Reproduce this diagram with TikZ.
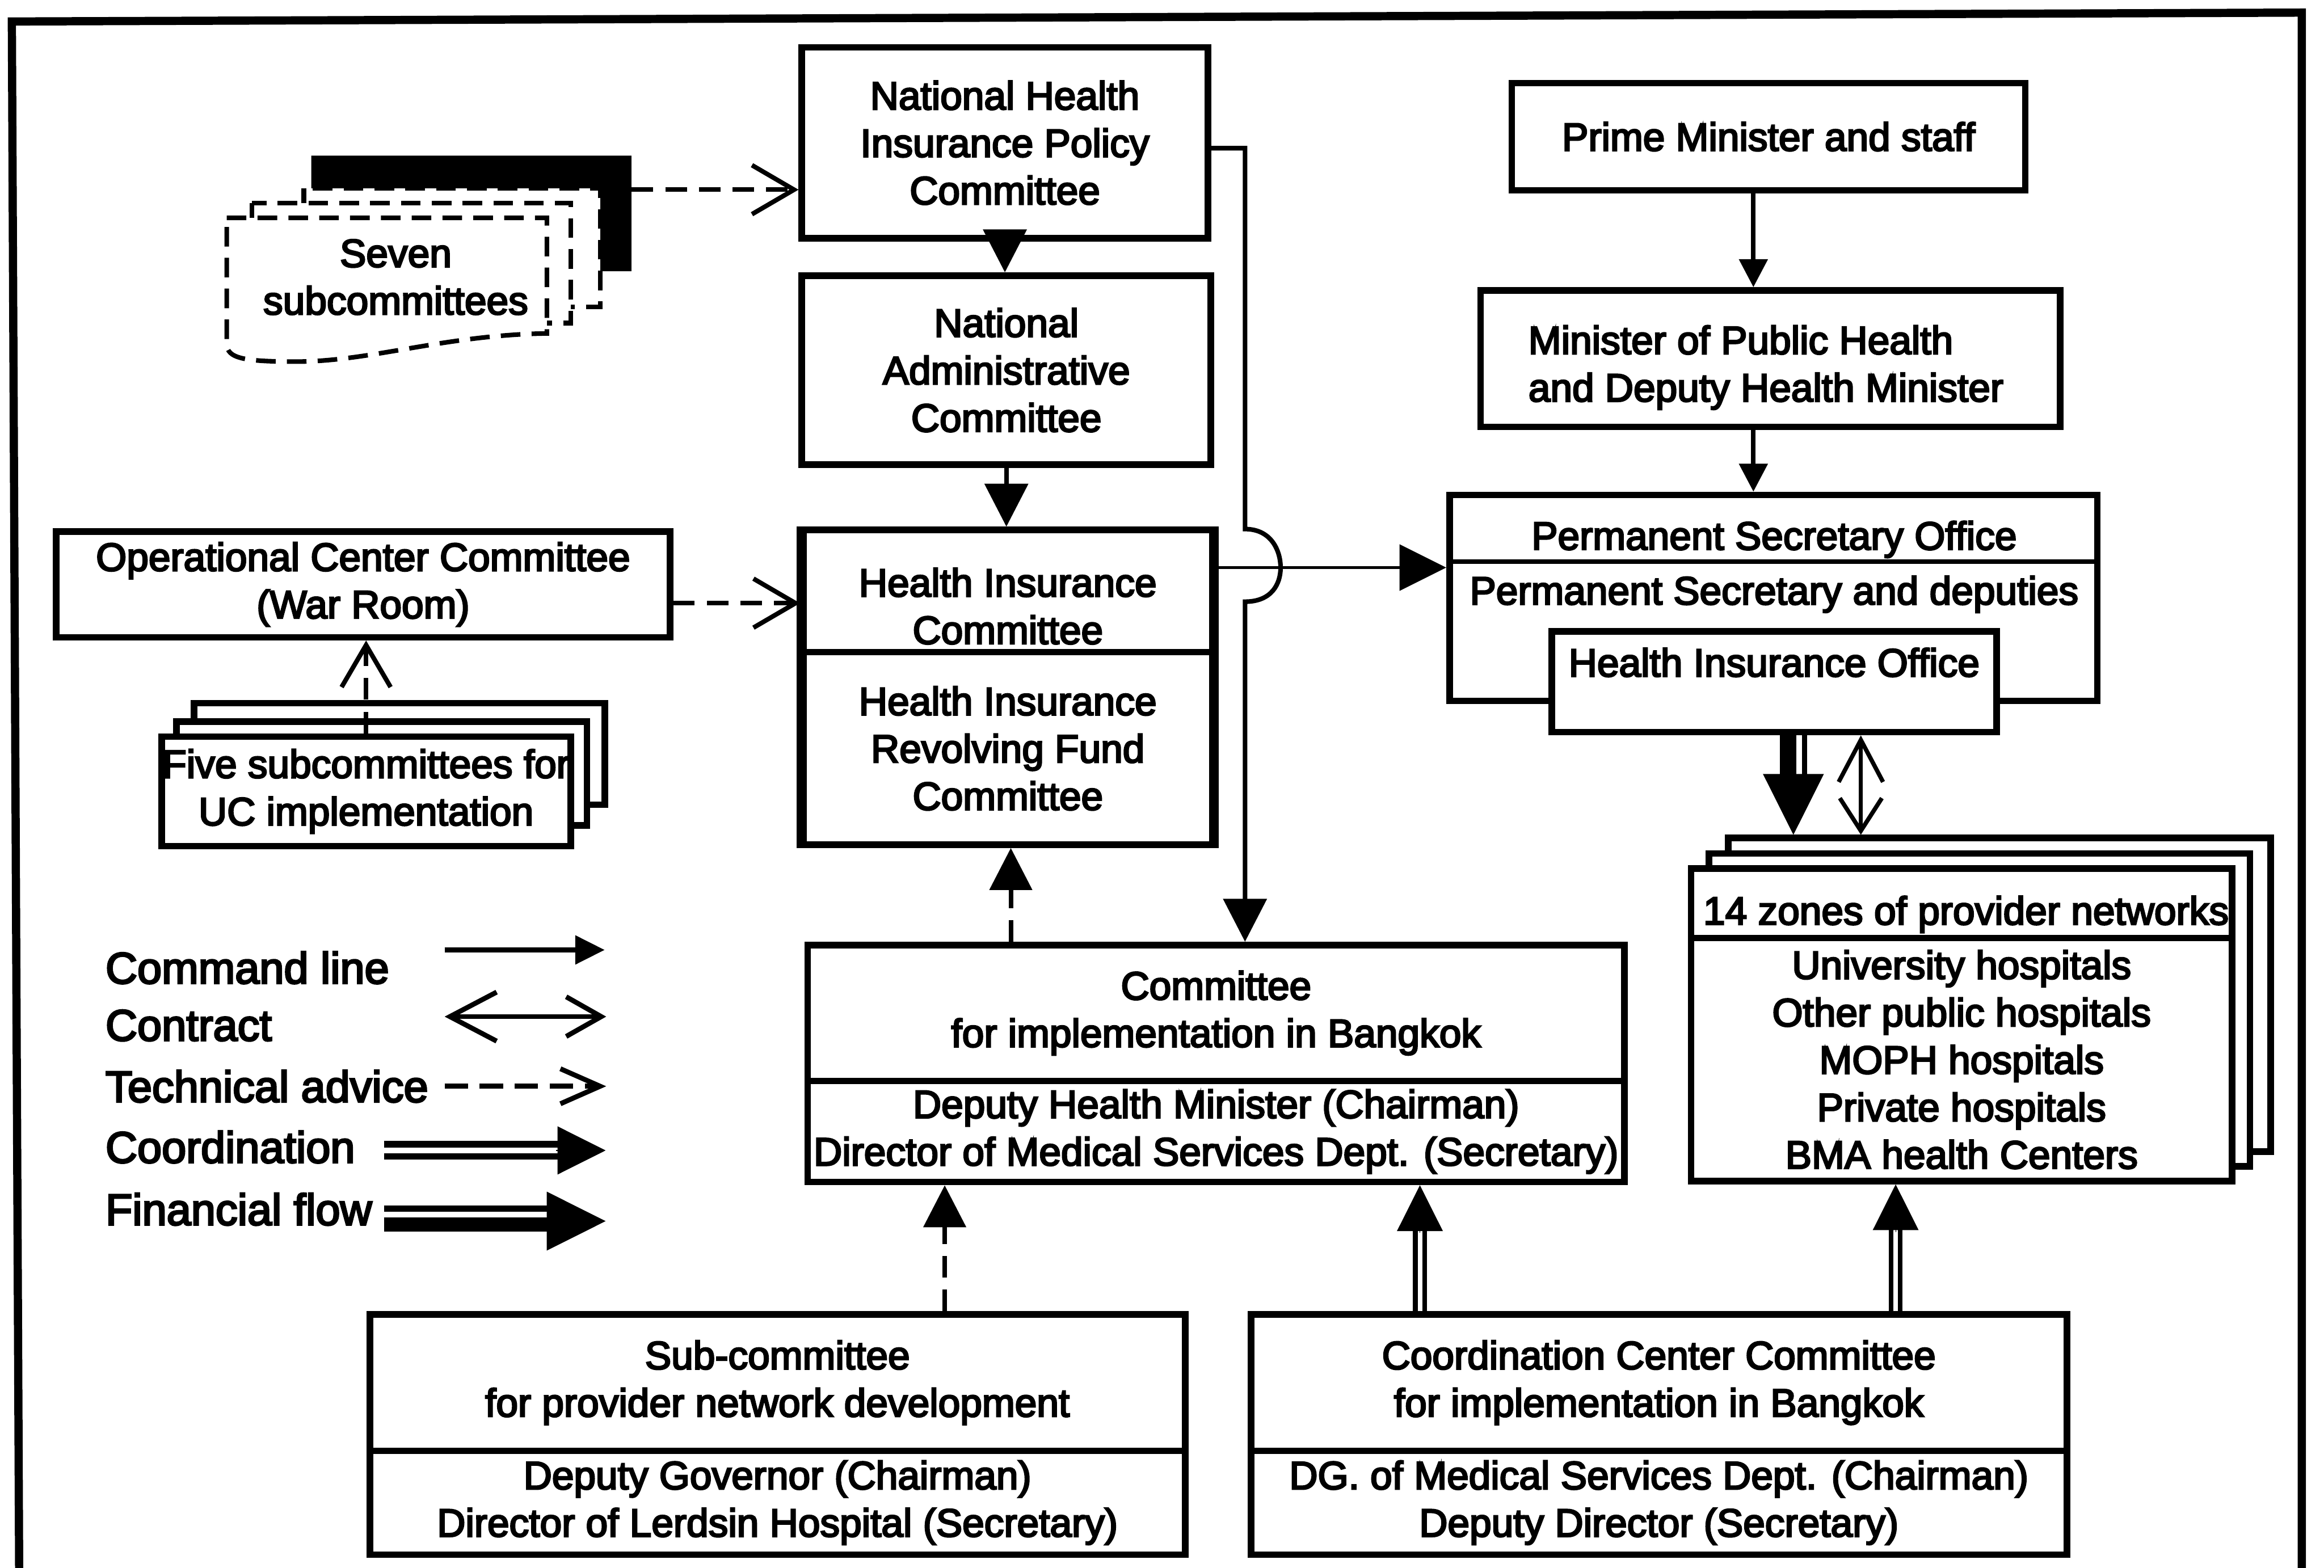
\documentclass[tikz,border=0pt]{standalone}
\usepackage{fontspec}
\setmainfont{Liberation Sans}[FakeBold=4]
\usetikzlibrary{arrows.meta}
\newcommand\drawbox[6]{\node[box, minimum width={(#4-#2)*0.3174mm}, minimum height={(#5-#3)*0.3174mm}] (#1) at ({(#2+#4)/2},{(#3+#5)/2}) {#6};}
\begin{document}
\begin{tikzpicture}[x=0.3174mm,y=-0.3174mm,
  txt/.style={font=\fontsize{24}{28.9}\selectfont, inner sep=0pt, align=center},
  box/.style={txt, draw, line width=4pt, fill=white},
  lbl/.style={font=\fontsize{26.8}{30}\selectfont, inner sep=0pt, anchor=west},
  dashedbox/.style={line width=2.8pt, dash pattern=on 4.2mm off 2.4mm},
  cmd/.style={line width=2.8pt, -{Triangle[length=9.2mm,width=9.2mm]}},
  cmdsmall/.style={line width=2.8pt, -{Triangle[length=6mm,width=6mm]}},
  adv/.style={line width=2.8pt, dash pattern=on 4.6mm off 2.6mm, -{Straight Barb[length=9mm,width=10.5mm]}},
  advfilled/.style={line width=2.8pt, dash pattern=on 4.6mm off 2.6mm, -{Triangle[length=9mm,width=9mm]}},
  contract/.style={line width=2.6pt, {Straight Barb[length=9mm,width=9.5mm]}-{Straight Barb[length=7mm,width=9mm]}},
  dblshaft/.style={line width=2.8pt, double=white, double distance=2.8pt},
  headonly/.style={line width=0.4pt, -{Triangle[length=#1,width=#1]}}
]
\useasboundingbox (0,0) rectangle (1568,1058);

% outer frame
\draw[line width=5pt] (13,1075) -- (8,14.5) -- (1553,8.5) -- (1553,1075);

% central column
\drawbox{nhipc}{541}{32}{815}{160.7}{National Health\\Insurance Policy\\Committee}
\drawbox{nac}{541}{186}{817}{313.5}{National\\Administrative\\Committee}
\drawbox{hicA}{542}{357.6}{818}{440}{}
\node[txt] (hicAt) at (680,409) {Health Insurance\\Committee};
\draw[line width=2.4pt] (hicA.south west) -- (hicA.south east);
\drawbox{hicB}{542}{440}{818}{570}{Health Insurance\\Revolving Fund\\Committee}
\draw[line width=4pt] (hicA.north west) -- (hicB.south west);
\draw[line width=4pt] (hicA.north east) -- (hicB.south east);

% operational center
\drawbox{occ}{38}{358.6}{452}{430}{Operational Center Committee\\(War Room)}

% five subcommittees stack
\drawbox{five3}{131}{474.5}{408}{543}{}
\drawbox{five2}{119}{487}{396}{557}{}
\drawbox{five1}{109}{497}{385}{571}{Five subcommittees for\\UC implementation}

% seven subcommittees stack
\fill (210,105) -- (426,105) -- (426,183) -- (405,183) -- (405,127) -- (210,127) -- cycle;
\node[inner sep=0pt, minimum width={216*0.3174mm}, minimum height={78*0.3174mm}] (seven3) at (318,144) {};
\draw[dashedbox, fill=white] (205,127) rectangle (405,207);
\draw[dashedbox, fill=white] (170,137) rectangle (385,218);
\draw[dashedbox, fill=white] (153,147) -- (369,147) -- (369,225)
   .. controls (300,226) and (250,244) .. (200,244)
   .. controls (165,244) and (153,242) .. (153,232) -- cycle;
\node[txt] (seven) at (267,187) {Seven\\subcommittees};

% right column
\drawbox{pm}{1020}{56}{1366.5}{128.4}{Prime Minister and staff}
\drawbox{moph}{999}{196}{1390}{288}{}
\node[txt, align=left, anchor=west] (mopht) at (1031,248) {Minister of Public Health\\and Deputy Health Minister};
\drawbox{pso}{978}{334}{1415}{473}{}
\coordinate (py) at (1000,379);
\draw[line width=2.6pt] (pso.west |- py) -- (pso.east |- py);
\node[txt] (psot1) at (1197,364) {Permanent Secretary Office};
\node[txt] (psot2) at (1197,401) {Permanent Secretary and deputies};
\drawbox{hio}{1047}{426}{1347}{494}{}
\node[txt] (hiot) at (1197,447) {Health Insurance Office};

% provider networks stack
\drawbox{zone3}{1166}{565.5}{1532}{777}{}
\drawbox{zone2}{1153}{576}{1518}{787}{}
\drawbox{zoneA}{1141}{586}{1506}{633}{}
\drawbox{zoneB}{1141}{633}{1506}{797}{University hospitals\\Other public hospitals\\MOPH hospitals\\Private hospitals\\BMA health Centers}
\node[txt, anchor=west] (zonet) at (1149,617) {14 zones of provider networks};

% implementation committees
\drawbox{cibA}{545}{637.7}{1096}{729.5}{Committee\\for implementation in Bangkok}
\drawbox{cibB}{545}{729.5}{1096}{797.6}{Deputy Health Minister (Chairman)\\Director of Medical Services Dept. (Secretary)}
\drawbox{subA}{249.5}{887}{799.6}{979}{Sub-committee\\for provider network development}
\drawbox{subB}{249.5}{979}{799.6}{1049}{Deputy Governor (Chairman)\\Director of Lerdsin Hospital (Secretary)}
\drawbox{cccA}{844}{887}{1394.5}{979}{Coordination Center Committee\\for implementation in Bangkok}
\drawbox{cccB}{844}{979}{1394.5}{1049}{DG. of Medical Services Dept. (Chairman)\\Deputy Director (Secretary)}

% connectors
\coordinate (sa) at (480,128);
\draw[adv] (sa -| seven3.east) -- (sa -| nhipc.west);
\coordinate (oa) at (500,407);
\draw[adv] (oa -| occ.east) -- (oa -| hicA.west);
\draw[adv] (five1.north) -- (five1.north |- occ.south);
\draw[cmd] (nhipc.south) -- (nhipc.south |- nac.north);
\draw[cmd] (nac.south) -- (nac.south |- hicA.north);
\coordinate (d1) at (682,0);
\draw[advfilled] (d1 |- cibA.north) -- (d1 |- hicB.south);
\coordinate (bt) at (840,100);
\draw[cmd] (bt -| nhipc.east) -- (bt) -- (840,357)
   .. controls (858,357) and (864,372) .. (864,383)
   .. controls (864,394) and (858,406) .. (840,406) -- (bt |- cibA.north);
\coordinate (pa) at (900,383);
\draw[line width=2pt, -{Triangle[length=10mm,width=9.8mm]}] (pa -| hicA.east) -- (pa -| pso.west);
\coordinate (pmx) at (1183,0);
\draw[cmdsmall] (pmx |- pm.south) -- (pmx |- moph.north);
\draw[cmdsmall] (pmx |- moph.south) -- (pmx |- pso.north);

% financial flow and contract from HIO
\coordinate (f1) at (1206.5,0);
\coordinate (f2) at (1217.5,0);
\coordinate (fx) at (1210,0);
\draw[line width=9.9pt, shorten >=12.5mm] (f1 |- hio.south) -- (f1 |- zone3.north);
\draw[line width=2.8pt, shorten >=12.5mm] (f2 |- hio.south) -- (f2 |- zone3.north);
\draw[headonly=13mm] ([yshift=13.5mm]fx |- zone3.north) -- (fx |- zone3.north);
\coordinate (k) at (1255.5,0);
\draw[contract] (k |- hio.south) -- (k |- zone3.north);

% to committee for implementation
\coordinate (d2) at (637.4,0);
\draw[advfilled] (d2 |- subA.north) -- (d2 |- cibB.south);
\coordinate (c1) at (958,0);
\draw[dblshaft, shorten >=9mm] (c1 |- cccA.north) -- (c1 |- cibB.south);
\draw[headonly=9.8mm] ([yshift=-10.2mm]c1 |- cibB.south) -- (c1 |- cibB.south);
\coordinate (c2) at (1279,0);
\draw[dblshaft, shorten >=9mm] (c2 |- cccA.north) -- (c2 |- zoneB.south);
\draw[headonly=9.8mm] ([yshift=-10.2mm]c2 |- zoneB.south) -- (c2 |- zoneB.south);

% legend
\node[lbl] (lg1) at (71,653) {Command line};
\node[lbl] (lg2) at (71,692) {Contract};
\node[lbl] (lg3) at (71,733) {Technical advice};
\node[lbl] (lg4) at (71,774) {Coordination};
\node[lbl] (lg5) at (71,816) {Financial flow};
\coordinate (a1s) at (300,641); \coordinate (a1e) at (408,641);
\draw[line width=3pt, -{Triangle[length=6.3mm,width=6mm]}] (a1s) -- (a1e);
\coordinate (a2s) at (300,686); \coordinate (a2e) at (409,686);
\draw[line width=3pt, {Straight Barb[length=10mm,width=10.5mm]}-{Straight Barb[length=7.5mm,width=8.5mm]}] (a2s) -- (a2e);
\coordinate (a3s) at (300,733); \coordinate (a3e) at (409,733);
\draw[line width=3pt, dash pattern=on 5mm off 2.5mm, -{Straight Barb[length=8.5mm,width=7.5mm]}] (a3s) -- (a3e);
\coordinate (a4s) at (259,776.3); \coordinate (a4e) at (408.6,776.3);
\draw[line width=4pt, double=white, double distance=3.4pt, shorten >=9.8mm] (a4s) -- (a4e);
\draw[headonly=10.3mm] ([xshift=-10.6mm]a4e) -- (a4e);
\coordinate (a5t) at (259,815.5); \coordinate (a5T) at (259,826.3); \coordinate (a5e) at (408.6,824);
\draw[line width=4pt] (a5t) -- ++(113,0);
\draw[line width=8.8pt] (a5T) -- ++(113,0);
\draw[headonly=12.6mm] ([xshift=-13mm]a5e) -- (a5e);
\end{tikzpicture}
\end{document}
